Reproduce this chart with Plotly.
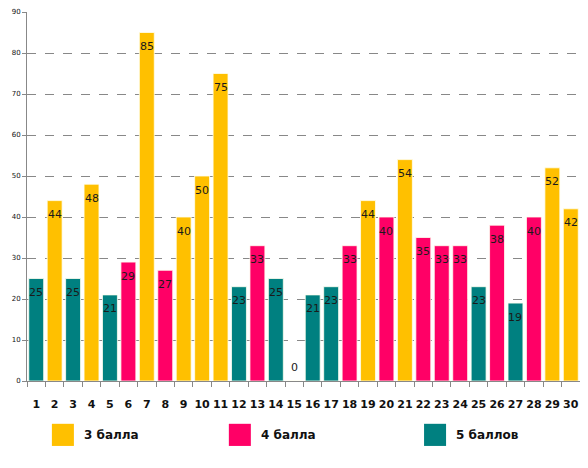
import plotly.graph_objects as go

# chart data
days = [str(i) for i in range(1, 31)]
values = [25, 44, 25, 48, 21, 29, 85, 27, 40, 50,
          75, 23, 33, 25, 0, 21, 23, 33, 44, 40,
          54, 35, 33, 33, 23, 38, 19, 40, 52, 42]
grades = ["5", "3", "5", "3", "5", "4", "3", "4", "3", "3",
          "3", "5", "4", "5", "5", "5", "5", "4", "3", "4",
          "3", "4", "4", "4", "5", "4", "5", "4", "3", "3"]
legend_names = {"3": "3 балла", "4": "4 балла", "5": "5 баллов"}
y_ticks = [0, 10, 20, 30, 40, 50, 60, 70, 80, 90]

COLORS = {"3": "#FFC000", "4": "#FF0066", "5": "#008080"}
FONT = "DejaVu Sans"

fig = go.Figure()
fig.add_trace(go.Bar(
    x=days,
    y=values,
    marker=dict(color=[COLORS[g] for g in grades],
                line=dict(color="#FFFFF0", width=0.8)),
    showlegend=False,
    width=0.81,
))

# value labels, centred a little below each bar top (above for the zero bar)
# numeric-looking category names are read as indices by annotations, so use the index
for i, v in enumerate(values):
    fig.add_annotation(x=i, y=v, text=str(v), showarrow=False,
                       xanchor="center", yanchor="middle",
                       yshift=14 if v == 0 else -14,
                       font=dict(family=FONT, size=11, color="#1a1a1a"))

# legend drawn by hand, like the Excel one below the axis
legend_x = [0.045, 0.365, 0.718]
for (key, name), lx in zip(legend_names.items(), legend_x):
    fig.add_shape(type="rect", xref="paper", yref="paper",
                  x0=lx, x1=lx + 0.0398, y0=-0.176, y1=-0.116,
                  fillcolor=COLORS[key], line=dict(width=0))
    fig.add_annotation(x=lx + 0.0542, y=-0.146, xref="paper", yref="paper",
                       text=f"<b>{name}</b>", showarrow=False,
                       xanchor="left", yanchor="middle",
                       font=dict(family=FONT, size=12, color="#111111"))

# page body has an 8px margin; keep the figure small enough not to overflow the window
fig.update_layout(
    width=572, height=452,
    margin=dict(l=19, r=0, t=4, b=79),
    paper_bgcolor="white",
    plot_bgcolor="white",
)
fig.update_xaxes(
    type="category",
    range=[-0.5, len(days) - 0.5],
    tickson="boundaries",
    ticks="outside", ticklen=5, tickcolor="#888888",
    showline=True, linecolor="#888888", linewidth=1,
    tickfont=dict(family=FONT, size=11, color="#111111"),
    tickprefix="<b>", ticksuffix="</b>",
    tickangle=0,
    ticklabelstandoff=13,
    showgrid=False,
    automargin=False,
)
fig.update_yaxes(
    range=[0, 90],
    tickvals=y_ticks,
    ticks="outside", ticklen=4, tickcolor="#888888",
    showline=True, linecolor="#888888", linewidth=1,
    showgrid=True, gridcolor="#888888", griddash="dash", gridwidth=1,
    tickfont=dict(family=FONT, size=7, color="#111111"),
    zeroline=False,
    automargin=False,
)

fig.write_html("out.html")
